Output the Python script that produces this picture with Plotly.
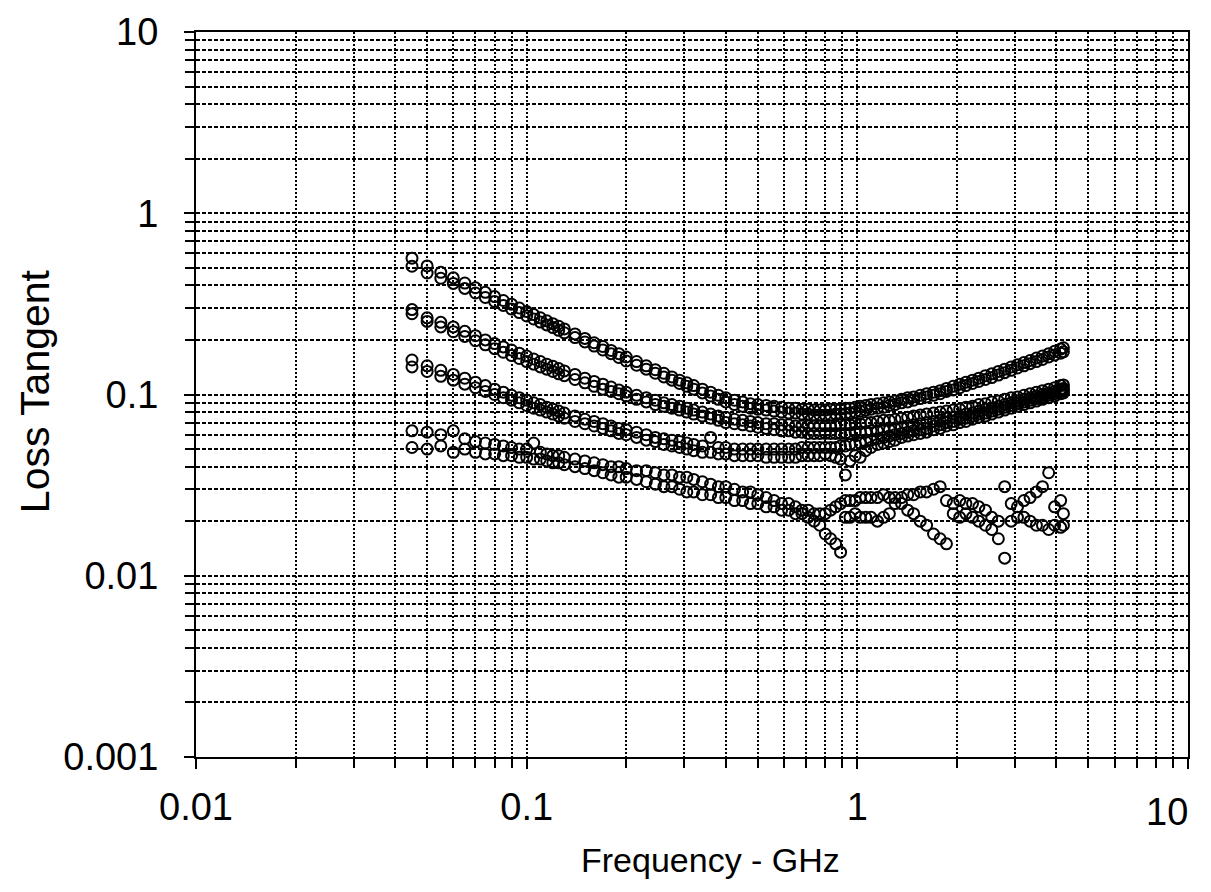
import plotly.graph_objects as go

# Frequency sweep points (GHz)
freq_ghz = [
    0.045, 0.050, 0.055, 0.060, 0.065, 0.070, 0.075, 0.080, 0.085, 0.090,
    0.095, 0.100, 0.105, 0.110, 0.115, 0.120, 0.125, 0.130, 0.140, 0.150,
    0.160, 0.170, 0.180, 0.190, 0.200, 0.215, 0.230, 0.245, 0.260, 0.275,
    0.290, 0.305, 0.320, 0.340, 0.360, 0.380, 0.400, 0.425, 0.450, 0.475,
    0.500, 0.530, 0.560, 0.590, 0.620, 0.650, 0.680, 0.710, 0.740, 0.770,
    0.800, 0.830, 0.860, 0.890, 0.920, 0.950, 0.985, 1.02, 1.06, 1.10,
    1.15, 1.20, 1.25, 1.30, 1.36, 1.42, 1.48, 1.55, 1.62, 1.70,
    1.78, 1.86, 1.95, 2.04, 2.13, 2.23, 2.33, 2.44, 2.55, 2.67,
    2.79, 2.92, 3.05, 3.19, 3.33, 3.48, 3.63, 3.79, 3.95, 4.12,
    4.20,
]

# Loss tangent series
loss_a1 = [
    0.565, 0.512, 0.472, 0.440, 0.412, 0.388, 0.366, 0.347, 0.330, 0.315,
    0.300, 0.287, 0.276, 0.265, 0.255, 0.246, 0.238, 0.230, 0.216, 0.204,
    0.193, 0.184, 0.175, 0.168, 0.161, 0.152, 0.144, 0.137, 0.131, 0.125,
    0.120, 0.116, 0.112, 0.107, 0.103, 0.099, 0.096, 0.093, 0.091, 0.089,
    0.088, 0.087, 0.086, 0.085, 0.084, 0.084, 0.083, 0.083, 0.082, 0.082,
    0.082, 0.083, 0.083, 0.083, 0.084, 0.084, 0.085, 0.086, 0.087, 0.088,
    0.089, 0.090, 0.091, 0.092, 0.094, 0.096, 0.097, 0.099, 0.101, 0.103,
    0.105, 0.108, 0.111, 0.114, 0.117, 0.120, 0.123, 0.127, 0.130, 0.134,
    0.138, 0.142, 0.146, 0.150, 0.154, 0.159, 0.163, 0.168, 0.173, 0.178,
    0.181,
]
loss_a2 = [
    0.510, 0.468, 0.438, 0.410, 0.385, 0.363, 0.343, 0.326, 0.310, 0.296,
    0.283, 0.271, 0.261, 0.251, 0.242, 0.234, 0.226, 0.219, 0.206, 0.195,
    0.185, 0.176, 0.168, 0.160, 0.153, 0.145, 0.138, 0.131, 0.125, 0.120,
    0.115, 0.111, 0.107, 0.102, 0.098, 0.094, 0.091, 0.088, 0.086, 0.084,
    0.083, 0.082, 0.081, 0.080, 0.079, 0.079, 0.078, 0.078, 0.077, 0.077,
    0.077, 0.077, 0.078, 0.078, 0.078, 0.079, 0.080, 0.081, 0.082, 0.083,
    0.084, 0.085, 0.087, 0.088, 0.090, 0.091, 0.093, 0.095, 0.097, 0.099,
    0.101, 0.104, 0.106, 0.109, 0.112, 0.115, 0.118, 0.121, 0.124, 0.128,
    0.132, 0.136, 0.140, 0.144, 0.148, 0.152, 0.156, 0.161, 0.165, 0.169,
    0.172,
]
loss_b1 = [
    0.294, 0.265, 0.250, 0.236, 0.223, 0.211, 0.200, 0.191, 0.183, 0.176,
    0.169, 0.163, 0.157, 0.152, 0.147, 0.143, 0.139, 0.135, 0.129, 0.123,
    0.118, 0.114, 0.110, 0.106, 0.103, 0.099, 0.096, 0.093, 0.090, 0.088,
    0.086, 0.084, 0.082, 0.080, 0.078, 0.076, 0.075, 0.073, 0.072, 0.071,
    0.070, 0.069, 0.069, 0.068, 0.068, 0.067, 0.067, 0.067, 0.067, 0.067,
    0.067, 0.067, 0.067, 0.068, 0.068, 0.068, 0.069, 0.069, 0.070, 0.070,
    0.071, 0.072, 0.072, 0.073, 0.074, 0.075, 0.076, 0.077, 0.078, 0.079,
    0.080, 0.081, 0.082, 0.083, 0.085, 0.086, 0.088, 0.089, 0.091, 0.092,
    0.094, 0.096, 0.097, 0.099, 0.101, 0.103, 0.105, 0.107, 0.109, 0.112,
    0.113,
]
loss_b2 = [
    0.279, 0.253, 0.236, 0.222, 0.209, 0.198, 0.188, 0.179, 0.171, 0.164,
    0.158, 0.152, 0.147, 0.142, 0.138, 0.134, 0.130, 0.127, 0.121, 0.116,
    0.111, 0.107, 0.104, 0.101, 0.098, 0.094, 0.091, 0.088, 0.086, 0.084,
    0.082, 0.080, 0.078, 0.076, 0.074, 0.072, 0.070, 0.069, 0.068, 0.067,
    0.066, 0.065, 0.064, 0.063, 0.063, 0.062, 0.062, 0.061, 0.061, 0.061,
    0.061, 0.061, 0.061, 0.061, 0.061, 0.061, 0.062, 0.062, 0.062, 0.063,
    0.063, 0.064, 0.064, 0.065, 0.066, 0.067, 0.068, 0.069, 0.070, 0.071,
    0.072, 0.074, 0.075, 0.076, 0.078, 0.079, 0.081, 0.083, 0.084, 0.086,
    0.088, 0.090, 0.092, 0.094, 0.096, 0.098, 0.100, 0.102, 0.104, 0.107,
    0.108,
]
loss_c1 = [
    0.155, 0.144, 0.136, 0.129, 0.123, 0.117, 0.112, 0.107, 0.103, 0.099,
    0.096, 0.093, 0.090, 0.088, 0.085, 0.083, 0.081, 0.079, 0.076, 0.073,
    0.071, 0.069, 0.067, 0.065, 0.064, 0.062, 0.060, 0.058, 0.057, 0.056,
    0.055, 0.054, 0.053, 0.052, 0.058, 0.051, 0.051, 0.050, 0.050, 0.050,
    0.050, 0.050, 0.050, 0.050, 0.050, 0.050, 0.051, 0.051, 0.051, 0.051,
    0.051, 0.051, 0.051, 0.052, 0.052, 0.053, 0.053, 0.054, 0.055, 0.056,
    0.057, 0.058, 0.059, 0.060, 0.061, 0.062, 0.063, 0.064, 0.065, 0.067,
    0.068, 0.070, 0.071, 0.073, 0.074, 0.076, 0.078, 0.079, 0.081, 0.083,
    0.085, 0.087, 0.089, 0.091, 0.093, 0.095, 0.097, 0.099, 0.101, 0.104,
    0.105,
]
loss_c2 = [
    0.142, 0.134, 0.126, 0.120, 0.114, 0.109, 0.104, 0.100, 0.096, 0.093,
    0.090, 0.087, 0.084, 0.082, 0.080, 0.078, 0.076, 0.074, 0.071, 0.069,
    0.067, 0.065, 0.063, 0.061, 0.060, 0.058, 0.056, 0.055, 0.053, 0.052,
    0.051, 0.050, 0.049, 0.048, 0.048, 0.047, 0.047, 0.046, 0.046, 0.046,
    0.046, 0.045, 0.045, 0.045, 0.045, 0.045, 0.046, 0.046, 0.046, 0.046,
    0.047, 0.046, 0.045, 0.044, 0.036, 0.043, 0.046, 0.045, 0.049, 0.051,
    0.053, 0.054, 0.055, 0.056, 0.058, 0.059, 0.060, 0.061, 0.062, 0.064,
    0.065, 0.067, 0.068, 0.070, 0.071, 0.073, 0.075, 0.076, 0.078, 0.080,
    0.082, 0.084, 0.086, 0.088, 0.090, 0.092, 0.094, 0.096, 0.098, 0.101,
    0.102,
]
loss_d1 = [
    0.063, 0.062, 0.060, 0.063, 0.057, 0.055, 0.054, 0.053, 0.052, 0.051,
    0.050, 0.050, 0.054, 0.048, 0.047, 0.046, 0.046, 0.045, 0.044, 0.043,
    0.042, 0.041, 0.040, 0.040, 0.039, 0.038, 0.038, 0.037, 0.036, 0.036,
    0.035, 0.035, 0.034, 0.033, 0.032, 0.031, 0.031, 0.030, 0.029, 0.029,
    0.028, 0.027, 0.026, 0.025, 0.025, 0.024, 0.023, 0.023, 0.022, 0.022,
    0.022, 0.023, 0.024, 0.025, 0.026, 0.026, 0.026, 0.027, 0.027, 0.027,
    0.027, 0.028, 0.027, 0.027, 0.027, 0.028, 0.028, 0.029, 0.029, 0.030,
    0.031, 0.026, 0.025, 0.026, 0.025, 0.025, 0.024, 0.023, 0.021, 0.020,
    0.031, 0.025, 0.024, 0.026, 0.027, 0.029, 0.031, 0.037, 0.024, 0.026,
    0.022,
]
loss_d2 = [
    0.051, 0.050, 0.052, 0.048, 0.050, 0.048, 0.047, 0.047, 0.046, 0.046,
    0.045, 0.045, 0.044, 0.044, 0.043, 0.042, 0.042, 0.041, 0.040, 0.039,
    0.038, 0.037, 0.036, 0.035, 0.035, 0.034, 0.033, 0.032, 0.031, 0.031,
    0.030, 0.029, 0.029, 0.028, 0.028, 0.027, 0.027, 0.026, 0.026, 0.025,
    0.025, 0.024, 0.024, 0.023, 0.023, 0.022, 0.022, 0.021, 0.020, 0.019,
    0.017, 0.016, 0.015, 0.0135, 0.021, 0.021, 0.022, 0.021, 0.021, 0.021,
    0.020, 0.021, 0.022, 0.025, 0.025, 0.023, 0.022, 0.020, 0.019, 0.017,
    0.016, 0.015, 0.022, 0.021, 0.022, 0.021, 0.020, 0.019, 0.018, 0.016,
    0.0125, 0.020, 0.021, 0.021, 0.020, 0.019, 0.019, 0.018, 0.019, 0.0185,
    0.019,
]

series = [loss_a1, loss_a2, loss_b1, loss_b2, loss_c1, loss_c2, loss_d1, loss_d2]

x_major = [0.01, 0.1, 1, 10]
x_labels = ["0.01", "0.1", "1", ""]   # "10" drawn inside the frame as text below
y_major = [0.001, 0.01, 0.1, 1, 10]
y_labels = ["0.001", "0.01", "0.1", "1", "10"]

x_minor = [m * d for d in [0.01, 0.1, 1] for m in range(2, 10)]
y_minor = [m * d for d in [0.001, 0.01, 0.1, 1] for m in range(2, 10)]

FONT = "Liberation Sans, Arial, Helvetica, sans-serif"

fig = go.Figure()
for ys in series:
    fig.add_trace(go.Scatter(
        x=freq_ghz, y=ys, mode="markers",
        marker=dict(symbol="circle-open", size=11, color="black",
                    line=dict(width=2, color="black")),
        showlegend=False, hoverinfo="x+y",
    ))

axis_common = dict(
    type="log", showline=True, linecolor="black", linewidth=2, mirror=True,
    ticks="outside", ticklen=10, tickwidth=2, tickcolor="black",
    tickfont=dict(size=38, family=FONT, color="black"),
    showgrid=True, gridcolor="black", gridwidth=1.8,
    zeroline=False, tickmode="array", automargin=False,
)

# The page body has an 8px margin, so the figure is sized to fit inside it.
fig.update_layout(
    width=1195, height=876, autosize=False,
    paper_bgcolor="white", plot_bgcolor="white",
    margin=dict(l=188, r=15, t=24, b=127),
    xaxis=dict(
        **axis_common, range=[-2, 1], tickvals=x_major, ticktext=x_labels,
        griddash="2px,2px", ticklabelstandoff=5,
        minor=dict(tickmode="array", tickvals=x_minor, ticks="outside",
                   ticklen=9, tickwidth=1.5, tickcolor="black",
                   showgrid=True, gridcolor="black", gridwidth=1.8,
                   griddash="2px,2px"),
    ),
    yaxis=dict(
        **axis_common, range=[-3, 1], tickvals=y_major, ticktext=y_labels,
        griddash="4px,2px", ticklabelstandoff=18,
        minor=dict(tickmode="array", tickvals=y_minor, ticks="outside",
                   ticklen=9, tickwidth=1.5, tickcolor="black",
                   showgrid=True, gridcolor="black", gridwidth=1.8,
                   griddash="4px,2px"),
    ),
    annotations=[
        dict(text="10", xref="paper", yref="paper",
             x=1.002, y=-0.044, xanchor="right", yanchor="top",
             showarrow=False, font=dict(size=38, family=FONT, color="black")),
        dict(text="Frequency - GHz", xref="paper", yref="paper",
             x=0.519, y=-0.142, xanchor="center", yanchor="middle",
             showarrow=False, font=dict(size=34, family=FONT, color="black")),
        dict(text="Loss Tangent", xref="paper", yref="paper",
             x=-0.162, y=0.505, xanchor="center", yanchor="middle",
             textangle=-90, showarrow=False, borderpad=0,
             font=dict(size=41, family=FONT, color="black")),
    ],
)

fig.write_html("out.html")
